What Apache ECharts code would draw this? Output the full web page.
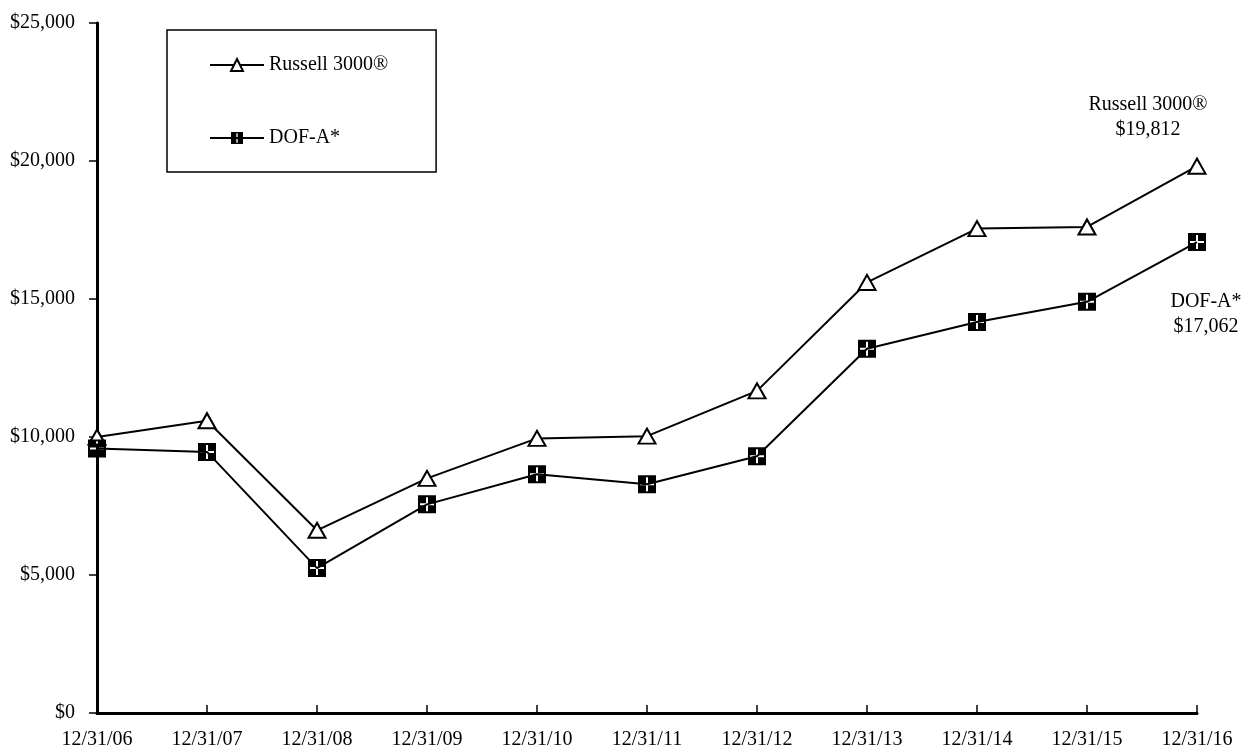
<!DOCTYPE html>
<html>
<head>
<meta charset="utf-8">
<script src="https://cdn.jsdelivr.net/npm/echarts@6/dist/echarts.min.js"></script>
<style>
  html, body { margin: 0; padding: 0; background: #fff; }
  #chart { width: 1244px; height: 749px; }
</style>
</head>
<body>
<div id="chart"></div>
<script>
// Growth of a $10,000 investment, year-end values
const categories = ['12/31/06', '12/31/07', '12/31/08', '12/31/09', '12/31/10', '12/31/11',
                    '12/31/12', '12/31/13', '12/31/14', '12/31/15', '12/31/16'];
const russellName = 'Russell 3000®';
const russellValues = [10000, 10590, 6620, 8500, 9950, 10030, 11670, 15600, 17550, 17610, 19812];
const dofName = 'DOF-A*';
const dofValues = [9580, 9460, 5250, 7560, 8650, 8290, 9300, 13200, 14170, 14900, 17062];
const yTicks = [0, 5000, 10000, 15000, 20000, 25000];

const FONT = "'Liberation Serif', 'Times New Roman', serif";

// black square with a white cross cut out (inner path wound the other way)
const crossSquare = 'path://M0 0 L18 0 L18 18 L0 18 Z ' +
  'M8 2 L8 8 L2 8 L2 10 L8 10 L8 16 L10 16 L10 10 ' +
  'L16 10 L16 8 L10 8 L10 2 Z';

function fmtMoney(v) {
  return '$' + v.toLocaleString('en-US');
}

function withEndLabel(values, offset) {
  const last = values.length - 1;
  return values.map((v, i) => i === last ? {
    value: v,
    label: {
      show: true,
      position: 'inside',
      offset: offset,
      align: 'center',
      verticalAlign: 'middle',
      fontFamily: FONT,
      fontSize: 20,
      lineHeight: 25,
      color: '#000',
      formatter: p => p.seriesName + '\n' + fmtMoney(p.value)
    }
  } : v);
}

const chart = echarts.init(document.getElementById('chart'), null, { renderer: 'canvas' });

chart.setOption({
  animation: false,
  backgroundColor: '#fff',
  grid: { left: 97, top: 23, right: 47, bottom: 36, containLabel: false, outerBoundsMode: 'none' },
  legend: {
    orient: 'vertical',
    left: 167,
    top: 30,
    padding: [25, 48, 24, 42],
    itemGap: 53,
    itemWidth: 54,
    itemHeight: 15,
    borderColor: '#000',
    borderWidth: 1.5,
    backgroundColor: '#fff',
    textStyle: { fontFamily: FONT, fontSize: 20, color: '#000' },
    data: [russellName, dofName]
  },
  xAxis: {
    type: 'category',
    data: categories,
    boundaryGap: false,
    axisLine: { lineStyle: { color: '#000', width: 3 } },
    axisTick: { inside: true, length: 8, lineStyle: { color: '#000', width: 1.5 } },
    axisLabel: { margin: 17, fontFamily: FONT, fontSize: 20, color: '#000' },
    splitLine: { show: false }
  },
  yAxis: {
    type: 'value',
    min: yTicks[0],
    max: yTicks[yTicks.length - 1],
    interval: yTicks[1] - yTicks[0],
    axisLine: { show: true, lineStyle: { color: '#000', width: 3 } },
    axisTick: { show: true, length: 8, lineStyle: { color: '#000', width: 1.5 } },
    axisLabel: {
      margin: 22, fontFamily: FONT, fontSize: 20, color: '#000',
      formatter: v => fmtMoney(v)
    },
    splitLine: { show: false }
  },
  series: [
    {
      name: russellName,
      type: 'line',
      data: withEndLabel(russellValues, [-49, -49]),
      symbol: 'triangle',
      symbolSize: [17, 15],
      showAllSymbol: true,
      lineStyle: { color: '#000', width: 2 },
      itemStyle: { color: '#fff', borderColor: '#000', borderWidth: 2 },
      emphasis: { disabled: true },
      z: 2
    },
    {
      name: dofName,
      type: 'line',
      data: withEndLabel(dofValues, [9, 72]),
      symbol: crossSquare,
      symbolSize: 18,
      showAllSymbol: true,
      lineStyle: { color: '#000', width: 2 },
      itemStyle: { color: '#000', borderWidth: 0 },
      emphasis: { disabled: true },
      z: 3
    }
  ]
});
</script>
</body>
</html>
